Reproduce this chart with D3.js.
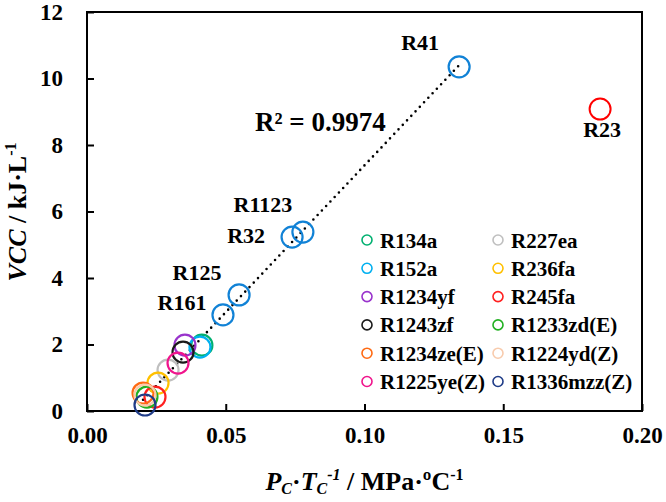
<!DOCTYPE html>
<html><head><meta charset="utf-8">
<script src="https://cdn.jsdelivr.net/npm/d3@7"></script>
<style>
body{margin:0;background:#fff;}
svg{display:block;font-family:"Liberation Serif","Times New Roman",serif;font-weight:bold;}
</style></head>
<body><svg id="c" width="666" height="502"></svg>
<script>
// ---- data ----
const xTicks = [0, 0.05, 0.10, 0.15, 0.20];
const yTicks = [0, 2, 4, 6, 8, 10, 12];
// labelled (blue) refrigerants
const labNames = ["R41", "R1123", "R32", "R125", "R161"];
const labX     = [0.1341, 0.0778, 0.0739, 0.0548, 0.0490];
const labY     = [10.35, 5.38, 5.23, 3.49, 2.89];
// outlier
const outName = ["R23"];
const outX = [0.1849];
const outY = [9.08];
// legend series (drawing order)
const serNames = ["R134a","R227ea","R152a","R236fa","R1234yf","R245fa","R1243zf","R1233zd(E)","R1234ze(E)","R1224yd(Z)","R1225ye(Z)","R1336mzz(Z)"];
const serX     = [0.0414, 0.0292, 0.0407, 0.0256, 0.0353, 0.0245, 0.0346, 0.0216, 0.0202, 0.0209, 0.0328, 0.0209];
const serY     = [1.98,   1.23,   1.92,   0.84,   1.98,   0.42,   1.77,   0.42,   0.54,   0.48,   1.44,   0.18];
const serColors= ["#00b070","#bfbfbf","#00b0f0","#ffc000","#9933cc","#ff2020","#1a1a1a","#22b022","#ff6a13","#f8cbad","#f0148c","#1f3c88"];
const legendLeft  = ["R134a","R152a","R1234yf","R1243zf","R1234ze(E)","R1225ye(Z)"];
const legendRight = ["R227ea","R236fa","R245fa","R1233zd(E)","R1224yd(Z)","R1336mzz(Z)"];
const r2Text = "R\u00b2 = 0.9974";

// ---- layout ----
const svg = d3.select("#c");
const L = 87, R = 642, T = 12, B = 411;
const x = d3.scaleLinear().domain([0, 0.2]).range([L, R]);
const y = d3.scaleLinear().domain([0, 12]).range([B, T]);
const blue = "#1182d6";

// frame
svg.append("rect").attr("x", L).attr("y", T).attr("width", R - L).attr("height", B - T)
  .attr("fill", "none").attr("stroke", "#000").attr("stroke-width", 2);

// axes (ticks inward)
const xa = svg.append("g").attr("transform", `translate(0,${B})`)
  .call(d3.axisBottom(x).tickValues(xTicks).tickFormat(d3.format(".2f")).tickSize(-7).tickPadding(16));
const ya = svg.append("g").attr("transform", `translate(${L},0)`)
  .call(d3.axisLeft(y).tickValues(yTicks).tickFormat(d3.format("d")).tickSize(-7).tickPadding(24));
[xa, ya].forEach(g => {
  g.select(".domain").remove();
  g.selectAll("line").attr("stroke", "#000").attr("stroke-width", 2);
  g.selectAll("text").attr("fill", "#000").attr("font-size", 23)
    .attr("font-family", "Liberation Serif, Times New Roman, serif").attr("font-weight", "bold");
});
xa.selectAll("text").attr("dy", "0.71em");

// trend line (least squares on all points except the outlier)
const allX = labX.concat(serX), allY = labY.concat(serY);
const mx = d3.mean(allX), my = d3.mean(allY);
let sxy = 0, sxx = 0;
allX.forEach((v, i) => { sxy += (v - mx) * (allY[i] - my); sxx += (v - mx) * (v - mx); });
const slope = sxy / sxx, icpt = my - slope * mx;
const x0 = d3.min(allX), x1 = d3.max(allX);
svg.append("line")
  .attr("x1", x(x0)).attr("y1", y(icpt + slope * x0))
  .attr("x2", x(x1)).attr("y2", y(icpt + slope * x1))
  .attr("stroke", "#000").attr("stroke-width", 2.6).attr("stroke-linecap", "round")
  .attr("stroke-dasharray", "0,6.2");

// points
const rr = 10.5;
serNames.forEach((n, i) => {
  svg.append("circle").attr("cx", x(serX[i])).attr("cy", y(serY[i])).attr("r", rr)
    .attr("fill", "none").attr("stroke", serColors[i]).attr("stroke-width", 2.2);
});
labNames.forEach((n, i) => {
  svg.append("circle").attr("cx", x(labX[i])).attr("cy", y(labY[i])).attr("r", rr)
    .attr("fill", "none").attr("stroke", blue).attr("stroke-width", 2.2);
});
svg.append("circle").attr("cx", x(outX[0])).attr("cy", y(outY[0])).attr("r", rr)
  .attr("fill", "none").attr("stroke", "#ff0000").attr("stroke-width", 2);

// point labels
const labOff = {"R41":[-39,-17], "R1123":[-40,-20], "R32":[-46,6], "R125":[-42,-15], "R161":[-41,-5]};
labNames.forEach((n, i) => {
  svg.append("text").attr("x", x(labX[i]) + labOff[n][0]).attr("y", y(labY[i]) + labOff[n][1])
    .attr("text-anchor", "middle").attr("font-size", 22).text(n);
});
svg.append("text").attr("x", x(outX[0]) + 2).attr("y", y(outY[0]) + 28)
  .attr("text-anchor", "middle").attr("font-size", 22).text(outName[0]);

// R² annotation
svg.append("text").attr("x", 255).attr("y", 131).attr("font-size", 27).text(r2Text);

// legend
const colorOf = n => serColors[serNames.indexOf(n)];
[[legendLeft, 367], [legendRight, 498]].forEach(([names, cx]) => {
  names.forEach((n, j) => {
    const cy = 240 + j * 28.3;
    svg.append("circle").attr("cx", cx).attr("cy", cy).attr("r", 5)
      .attr("fill", "none").attr("stroke", colorOf(n)).attr("stroke-width", 1.6);
    svg.append("text").attr("x", cx + 13).attr("y", cy + 7.5).attr("font-size", 21).text(n);
  });
});

// axis titles
const yt = svg.append("text").attr("transform", "translate(26,212) rotate(-90)")
  .attr("text-anchor", "middle").attr("font-size", 26);
yt.append("tspan").attr("font-style", "italic").text("VCC");
yt.append("tspan").text(" / kJ\u00b7L");
yt.append("tspan").attr("font-size", 16).attr("dy", -10).text("-1");

const xt = svg.append("text").attr("x", (L + R) / 2).attr("y", 490)
  .attr("text-anchor", "middle").attr("font-size", 26);
xt.append("tspan").attr("font-style", "italic").text("P");
xt.append("tspan").attr("font-style", "italic").attr("font-size", 16).attr("dy", 4).text("C");
xt.append("tspan").attr("dy", -4).text("\u00b7");
xt.append("tspan").attr("font-style", "italic").text("T");
xt.append("tspan").attr("font-style", "italic").attr("font-size", 16).attr("dy", 4).text("C");
xt.append("tspan").attr("font-style", "italic").attr("font-size", 16).attr("dy", -14).text("-1");
xt.append("tspan").attr("dy", 10).text(" / MPa\u00b7\u00baC");
xt.append("tspan").attr("font-size", 16).attr("dy", -10).text("-1");
</script></body></html>
